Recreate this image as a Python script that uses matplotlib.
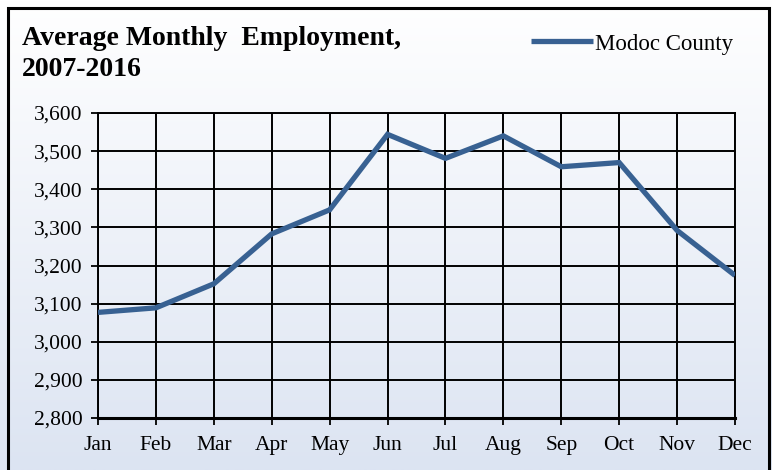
import numpy as np
import matplotlib
matplotlib.use("Agg")
from matplotlib import pyplot as plt
from matplotlib.patches import Rectangle

months = ["Jan", "Feb", "Mar", "Apr", "May", "Jun", "Jul", "Aug", "Sep", "Oct", "Nov", "Dec"]
employment = [3077, 3089, 3152, 3283, 3346, 3544, 3481, 3540, 3459, 3470, 3292, 3174]
yticks = [2800, 2900, 3000, 3100, 3200, 3300, 3400, 3500, 3600]

plt.rcParams['font.family'] = ['Liberation Serif', 'DejaVu Serif']

fig = plt.figure(figsize=(7.72, 4.70), dpi=100)

# gradient background, white at top to pale blue at bottom
bg = fig.add_axes([0, 0, 1, 1], zorder=0)
grad = np.linspace(0, 1, 256).reshape(-1, 1)
top = np.array([1.0, 1.0, 1.0])
bot = np.array([0xdc, 0xe4, 0xf2]) / 255
img = top + grad * (bot - top)
bg.imshow(img.reshape(256, 1, 3), aspect='auto', extent=[0, 1, 0, 1], origin='upper')
bg.set_xlim(0, 1)
bg.set_ylim(0, 1)
bg.axis('off')
bg.add_patch(Rectangle((8 / 772, -0.05), (769 - 8) / 772, 1.05 - 8 / 470,
                       fill=False, edgecolor='black', linewidth=2.2, transform=bg.transAxes))

ax = fig.add_axes([98 / 772, 1 - 418 / 470, (735 - 98) / 772, (418 - 113) / 470], zorder=1)
ax.patch.set_alpha(0)
x = np.arange(len(months))
ax.plot(x, employment, color='#386192', linewidth=3.8, label='Modoc County', zorder=3,
        solid_joinstyle='miter', solid_capstyle='butt')

ax.set_xlim(0, len(months) - 1)
ax.set_ylim(2800, 3600)
ax.set_xticks(x)
ax.set_xticklabels(months)
ax.set_yticks(yticks)
ax.set_yticklabels([f"{v:,}" for v in yticks])
ax.tick_params(axis='both', labelsize=15.5, direction='out', length=5, width=1.3, color='black')
ax.tick_params(axis='x', pad=8)
ax.tick_params(axis='y', pad=6)
ax.grid(True, color='black', linewidth=1.4)
ax.set_axisbelow(True)
for s in ax.spines.values():
    s.set_linewidth(1.4)
ax.spines['bottom'].set_linewidth(2.2)

fig.text(22 / 772, 1 - 26 / 470, "Average Monthly  Employment,\n2007-2016", fontsize=20,
         fontweight='bold', va='top', ha='left', linespacing=1.32)

ax.legend(loc='center left', bbox_to_anchor=(522 / 772, 1 - 44 / 470), bbox_transform=fig.transFigure,
          frameon=False, fontsize=16.5, handlelength=2.7, handletextpad=0.1, borderaxespad=0)

fig.savefig("out.png", dpi=100)
